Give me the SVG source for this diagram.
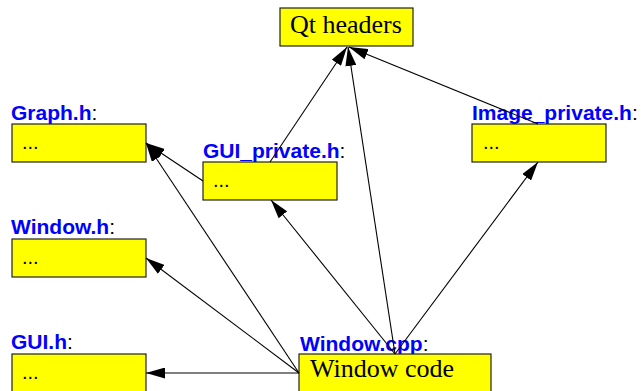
<svg xmlns="http://www.w3.org/2000/svg" width="642" height="391" viewBox="0 0 642 391">
<style>
.box{fill:#ffff00;stroke:#222;stroke-width:1.2}
.lbl{font-family:"Liberation Sans",Arial,sans-serif;font-size:21px;font-weight:bold;fill:#0000ff}
.col{fill:#000;font-weight:normal}
.dots{font-family:"Liberation Sans",Arial,sans-serif;font-size:20px;fill:#000}
.big{font-family:"Liberation Serif","Times New Roman",serif;font-size:26px;fill:#000}
.edge{stroke:#000;stroke-width:1.1;fill:none;marker-end:url(#ah)}
</style>
<defs>
<marker id="ah" markerUnits="userSpaceOnUse" markerWidth="19" markerHeight="11" refX="19" refY="5.5" orient="auto" viewBox="0 0 19 11">
<path d="M0,0 L19,5.5 L0,11 z" fill="#000"/>
</marker>
</defs>
<rect width="642" height="391" fill="#fff"/>
<g id="qt">
<rect class="box" x="280" y="8" width="133" height="38"/>
<text class="big" x="290" y="33">Qt headers</text>
</g>
<g id="graph">
<text class="lbl" x="11" y="120">Graph.h<tspan class="col">:</tspan></text>
<rect class="box" x="12" y="124" width="134" height="38"/>
<text class="dots" x="22" y="149">...</text>
</g>
<g id="guiprivate">
<text class="lbl" x="203" y="158">GUI_private.h<tspan class="col">:</tspan></text>
<rect class="box" x="203" y="162" width="134" height="38"/>
<text class="dots" x="213" y="187">...</text>
</g>
<g id="imageprivate">
<text class="lbl" x="472" y="120">Image_private.h<tspan class="col">:</tspan></text>
<rect class="box" x="472" y="124" width="134" height="38"/>
<text class="dots" x="483" y="149">...</text>
</g>
<g id="windowh">
<text class="lbl" x="11" y="234">Window.h<tspan class="col">:</tspan></text>
<rect class="box" x="12" y="239" width="134" height="38"/>
<text class="dots" x="22" y="264">...</text>
</g>
<g id="guih">
<text class="lbl" x="11" y="349">GUI.h<tspan class="col">:</tspan></text>
<rect class="box" x="12" y="354" width="134" height="42"/>
<text class="dots" x="22" y="379">...</text>
</g>
<g id="windowcpp">
<text class="lbl" x="300" y="351">Window.cpp<tspan class="col">:</tspan></text>
<rect class="box" x="299" y="354" width="192" height="42"/>
<text class="big" x="310" y="377">Window code</text>
</g>
<g id="connectors">
<line class="edge" x1="270" y1="162" x2="347" y2="47"/>
<line class="edge" x1="395" y1="354" x2="348" y2="47"/>
<line class="edge" x1="538" y1="124" x2="349" y2="47"/>
<line class="edge" x1="203" y1="181" x2="146" y2="143"/>
<line class="edge" x1="299" y1="373" x2="146" y2="143"/>
<line class="edge" x1="395" y1="354" x2="271" y2="200"/>
<line class="edge" x1="299" y1="373" x2="146" y2="258"/>
<line class="edge" x1="299" y1="373" x2="146" y2="373"/>
<line class="edge" x1="395" y1="354" x2="538" y2="162"/>
</g>
</svg>
